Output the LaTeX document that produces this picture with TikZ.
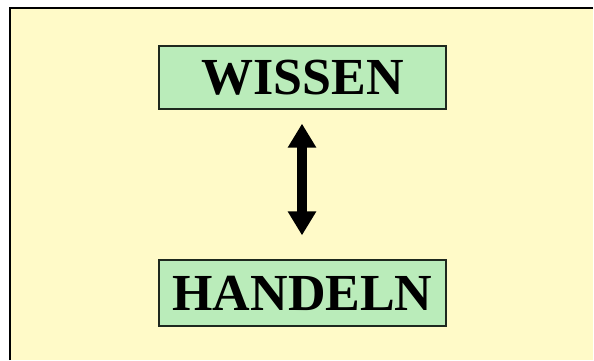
\documentclass[tikz,border=0pt]{standalone}
\usepackage{fontspec}
\setmainfont{Liberation Serif}
\usetikzlibrary{arrows.meta}
\definecolor{bgyellow}{RGB}{255,250,200}
\definecolor{boxgreen}{RGB}{186,236,186}
\definecolor{boxline}{RGB}{30,40,30}
\tikzset{
  wordbox/.style={draw=boxline, line width=1.3pt, fill=boxgreen, minimum width=287pt, inner sep=0pt,
    font=\fontsize{52}{52}\selectfont\bfseries},
  bigarrow/.style={line width=10pt, {Triangle[width=27pt,length=24pt]}-{Triangle[width=27pt,length=24pt]}}
}
\begin{document}
\begin{tikzpicture}[x=1pt,y=-1pt]
\useasboundingbox (0,0) rectangle (594,360);
\fill[white] (0,0) rectangle (594,360);
\fill[bgyellow] (10,8) rectangle (593,360);
\draw[line width=2.6pt] (10,360) -- (10,8) -- (593,8);
\node[wordbox, minimum height=63pt] (wissen) at (302.5,77.5) {WISSEN};
\node[wordbox, minimum height=66pt] (handeln) at (302.5,293) {HANDELN};
\draw[bigarrow, shorten <=14pt, shorten >=24pt] (wissen.south -| 302,0) -- (handeln.north -| 302,0);
\end{tikzpicture}
\end{document}
